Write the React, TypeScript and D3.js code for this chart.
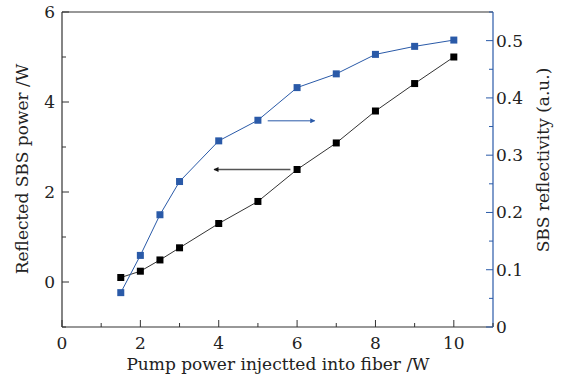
import React from "react";
import * as d3 from "d3";

const pumpPower = [1.5, 2, 2.5, 3, 4, 5, 6, 7, 8, 9, 10];
const reflectedPower = [0.1, 0.24, 0.49, 0.76, 1.3, 1.79, 2.5, 3.09, 3.8, 4.41, 5.0];
const reflectivity = [0.06, 0.125, 0.196, 0.254, 0.325, 0.361, 0.418, 0.442, 0.476, 0.49, 0.501];
const xTicks = [0, 1, 2, 3, 4, 5, 6, 7, 8, 9, 10, 11];
const xLabels = [0, 2, 4, 6, 8, 10];
const yLeftTicks = [-1, 0, 1, 2, 3, 4, 5, 6];
const yLeftLabels = [0, 2, 4, 6];
const yRightTicks = [0, 0.05, 0.1, 0.15, 0.2, 0.25, 0.3, 0.35, 0.4, 0.45, 0.5, 0.55];
const yRightLabels = [0, 0.1, 0.2, 0.3, 0.4, 0.5];
// arrow annotations: [x from, x to, y]
const blueArrow = [5.25, 6.45, 0.36];
const blackArrow = [5.83, 3.88, 2.5];

const W = 563, H = 379;
const M = { left: 62, right: 493, top: 12, bottom: 327 };
const BLUE = "#2a5aa8";
const FONT = "DejaVu Serif";
const FS = 17;

export default function App() {
  const x = d3.scaleLinear().domain([0, 11]).range([M.left, M.right]);
  const yL = d3.scaleLinear().domain([-1, 6]).range([M.bottom, M.top]);
  const yR = d3.scaleLinear().domain([0, 0.55]).range([M.bottom, M.top]);
  const lineL = d3.line<number>().x((d, i) => x(pumpPower[i])).y((d) => yL(d));
  const lineR = d3.line<number>().x((d, i) => x(pumpPower[i])).y((d) => yR(d));
  const ms = 7;
  return (
    <svg width={W} height={H} style={{ position: "absolute", left: 0, top: 0, background: "#fff" }}>
      <defs>
        <marker id="ab" viewBox="0 0 10 10" refX="9" refY="5" markerWidth="7" markerHeight="5" orient="auto" markerUnits="userSpaceOnUse">
          <path d="M0,0 L10,5 L0,10 Z" fill={BLUE} />
        </marker>
        <marker id="ak" viewBox="0 0 10 10" refX="9" refY="5" markerWidth="7" markerHeight="5" orient="auto" markerUnits="userSpaceOnUse">
          <path d="M0,0 L10,5 L0,10 Z" fill="#111" />
        </marker>
      </defs>
      {/* frame */}
      <line x1={M.left} x2={M.right} y1={M.top} y2={M.top} stroke="#333" strokeWidth={1.2} />
      <line x1={M.left} x2={M.left} y1={M.top} y2={M.bottom} stroke="#333" strokeWidth={1.2} />
      <line x1={M.left} x2={M.right} y1={M.bottom} y2={M.bottom} stroke="#333" strokeWidth={1.2} />
      <line x1={M.right} x2={M.right} y1={M.top} y2={M.bottom} stroke={BLUE} strokeWidth={1.2} />
      {/* x ticks */}
      {xTicks.map((t) => (
        <line key={"xt" + t} x1={x(t)} x2={x(t)} y1={M.bottom} y2={M.bottom - (t % 2 === 0 ? 7 : 4)} stroke="#333" />
      ))}
      {xLabels.map((t) => (
        <text key={"xl" + t} x={x(t)} y={349} textAnchor="middle" fontFamily={FONT} fontSize={FS} fill="#222">{t}</text>
      ))}
      {/* left ticks */}
      {yLeftTicks.map((t) => (
        <line key={"yl" + t} x1={M.left} x2={M.left + (t % 2 === 0 ? 7 : 4)} y1={yL(t)} y2={yL(t)} stroke="#333" />
      ))}
      {yLeftLabels.map((t) => (
        <text key={"yll" + t} x={M.left - 7} y={yL(t) + 6} textAnchor="end" fontFamily={FONT} fontSize={FS} fill="#222">{t}</text>
      ))}
      {/* right ticks */}
      {yRightTicks.map((t, i) => (
        <line key={"yr" + i} x1={M.right} x2={M.right - (i % 2 === 0 ? 7 : 4)} y1={yR(t)} y2={yR(t)} stroke={BLUE} />
      ))}
      {yRightLabels.map((t) => (
        <text key={"yrl" + t} x={M.right + 3} y={yR(t) + 6} textAnchor="start" fontFamily={FONT} fontSize={FS} fill="#222">{t === 0 ? "0" : d3.format(".1f")(t)}</text>
      ))}
      {/* titles */}
      <text x={278} y={370} textAnchor="middle" fontFamily={FONT} fontSize={FS} fill="#222">Pump power injectted into fiber /W</text>
      <text transform={`translate(28,${169}) rotate(-90)`} textAnchor="middle" fontFamily={FONT} fontSize={FS} fill="#222">Reflected SBS power /W</text>
      <text transform={`translate(549,${160}) rotate(-90)`} textAnchor="middle" fontFamily={FONT} fontSize={FS} fill="#222">SBS reflectivity (a.u.)</text>
      {/* series */}
      <path d={lineL(reflectedPower) || ""} fill="none" stroke="#333" strokeWidth={1} />
      <path d={lineR(reflectivity) || ""} fill="none" stroke={BLUE} strokeWidth={1} />
      {reflectedPower.map((v, i) => (
        <rect key={"k" + i} x={x(pumpPower[i]) - ms / 2} y={yL(v) - ms / 2} width={ms} height={ms} fill="#000" />
      ))}
      {reflectivity.map((v, i) => (
        <rect key={"b" + i} x={x(pumpPower[i]) - ms / 2} y={yR(v) - ms / 2} width={ms} height={ms} fill={BLUE} />
      ))}
      {/* arrows */}
      <line x1={x(blueArrow[0])} x2={x(blueArrow[1])} y1={yR(blueArrow[2])} y2={yR(blueArrow[2])} stroke={BLUE} strokeWidth={1} markerEnd="url(#ab)" />
      <line x1={x(blackArrow[0])} x2={x(blackArrow[1])} y1={yL(blackArrow[2])} y2={yL(blackArrow[2])} stroke="#555" strokeWidth={1.5} markerEnd="url(#ak)" />
    </svg>
  );
}
